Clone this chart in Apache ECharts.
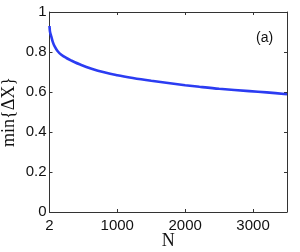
<!DOCTYPE html>
<html>
<head>
<meta charset="utf-8">
<script src="https://cdn.jsdelivr.net/npm/echarts@6/dist/echarts.min.js"></script>
<style>html,body{margin:0;padding:0;background:#fff;}#c{width:300px;height:252px;}</style>
</head>
<body>
<div id="c"></div>
<script>
const nValues = [2, 4, 10, 29, 50, 78, 120, 176, 250, 324, 470, 715, 1000, 1229, 1500, 1721, 2000, 2210, 2500, 2946, 3200, 3500];
const minDX   = [0.93, 0.92, 0.9, 0.877, 0.851, 0.828, 0.805, 0.786, 0.77, 0.757, 0.735, 0.706, 0.684, 0.670, 0.656, 0.646, 0.634, 0.626, 0.616, 0.6045, 0.598, 0.589];
const xTicks = [2, 1000, 2000, 3000];
const yTicks = [0, 0.2, 0.4, 0.6, 0.8, 1];

const chart = echarts.init(document.getElementById('c'));
const tickFont = {fontFamily: 'Liberation Sans', fontSize: 15, color: '#111'};
const axisLineStyle = {color: '#333', width: 1};
chart.setOption({
  animation: false,
  grid: {left: 49.5, right: 13, top: 12, bottom: 40, containLabel: false, outerBoundsMode: 'none'},
  xAxis: [{
    type: 'value', min: 2, max: 3500, position: 'bottom',
    axisLine: {show: true, onZero: false, lineStyle: axisLineStyle},
    axisTick: {show: true, inside: true, length: 3, customValues: xTicks, lineStyle: axisLineStyle},
    axisLabel: Object.assign({customValues: xTicks, margin: 6, formatter: v => String(Math.round(v))}, tickFont),
    splitLine: {show: false},
    name: 'N', nameLocation: 'middle', nameGap: 20, nameMoveOverlap: false,
    nameTextStyle: {fontFamily: 'Liberation Serif', fontSize: 18, color: '#111'}
  }, {
    type: 'value', min: 2, max: 3500, position: 'top',
    axisLine: {show: true, onZero: false, lineStyle: axisLineStyle},
    axisTick: {show: true, inside: true, length: 3, customValues: xTicks, lineStyle: axisLineStyle},
    axisLabel: {show: false}, splitLine: {show: false}
  }],
  yAxis: [{
    type: 'value', min: 0, max: 1, interval: 0.2, position: 'left',
    axisLine: {show: true, onZero: false, lineStyle: axisLineStyle},
    axisTick: {show: true, inside: true, length: 3, lineStyle: axisLineStyle},
    axisLabel: Object.assign({margin: 3, formatter: v => String(+v.toFixed(1))}, tickFont),
    splitLine: {show: false},
    name: 'min{ΔX}', nameLocation: 'middle', nameGap: 31, nameMoveOverlap: false,
    nameTextStyle: {fontFamily: 'Liberation Serif', fontSize: 18, color: '#111'}
  }, {
    type: 'value', min: 0, max: 1, interval: 0.2, position: 'right',
    axisLine: {show: true, onZero: false, lineStyle: axisLineStyle},
    axisTick: {show: true, inside: true, length: 3, lineStyle: axisLineStyle},
    axisLabel: {show: false}, splitLine: {show: false}
  }],
  graphic: [{
    type: 'text', left: 256, top: 31,
    style: {text: '(a)', font: '14px "Liberation Sans"', fill: '#111'}
  }],
  series: [{
    type: 'line', xAxisIndex: 0, yAxisIndex: 0,
    data: nValues.map((n, i) => [n, minDX[i]]),
    showSymbol: false, smooth: 0.3,
    lineStyle: {color: '#2b3cf2', width: 2.6}
  }]
});
</script>
</body>
</html>
